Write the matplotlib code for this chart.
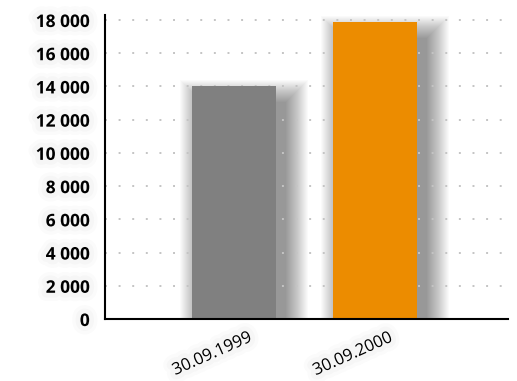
import numpy as np
import matplotlib.pyplot as plt
import matplotlib.patches as mpatches
import matplotlib.transforms as mtransforms
import matplotlib.patheffects as pe

plt.rcParams['font.family'] = ['Open Sans', 'DejaVu Sans']

dates = ['30.09.1999', '30.09.2000']
values = [14000, 17900]
colors = ['#808080', '#ec8c00']
yticks = [0, 2000, 4000, 6000, 8000, 10000, 12000, 14000, 16000, 18000]

fig = plt.figure(figsize=(5.17, 3.81), dpi=100)
ax = fig.add_axes([105 / 517, 62 / 381, 403 / 517, 304 / 381])

x = np.arange(len(values))
width = 0.6
ax.set_xlim(-0.915, 1.943)
ax.set_ylim(0, 18300)

# soft drop shadows, built from stacked translucent rectangles in pixel space
fig.canvas.draw()
for xi, v in zip(x, values):
    (x0, y0) = ax.transData.transform((xi - width / 2, 0))
    (x1, y1) = ax.transData.transform((xi + width / 2, v))
    dx, dy = 10, -16
    for s in np.linspace(0, 22, 23):
        r = mpatches.Rectangle((x0 + dx - s, y0 - s), (x1 - x0) + 2 * s, (y1 - y0) + dy + 2 * s,
                               transform=mtransforms.IdentityTransform(),
                               facecolor='black', edgecolor='none', alpha=0.018, zorder=1)
        ax.add_patch(r)
        r.set_clip_path(ax.patch)

ax.bar(x, values, width, color=colors, zorder=3)

ax.set_yticks(yticks)
ax.set_yticklabels([f'{t:,}'.replace(',', ' ') for t in yticks], fontweight='bold', fontsize=12.5)
ax.yaxis.grid(True, color='#c4c4c4', linestyle=(0, (1, 6)), linewidth=1.4)
for gl in ax.get_ygridlines():
    gl.set_zorder(2)
ax.tick_params(axis='y', length=0, pad=11)

ax.set_xticks(x)
ax.set_xticklabels(dates, rotation=24, ha='right', va='center', rotation_mode='anchor', fontsize=12)
ax.tick_params(axis='x', length=0, pad=13)
offset = mtransforms.ScaledTranslation(17 / 100, 0, fig.dpi_scale_trans)
for lab in ax.get_xticklabels():
    lab.set_transform(lab.get_transform() + offset)

glow = [pe.Stroke(linewidth=12, foreground='black', alpha=0.015),
        pe.Stroke(linewidth=7, foreground='black', alpha=0.02), pe.Normal()]
for lab in ax.get_xticklabels() + ax.get_yticklabels():
    lab.set_path_effects(glow)

for side in ['top', 'right']:
    ax.spines[side].set_visible(False)
ax.spines['left'].set_linewidth(1.5)
ax.spines['bottom'].set_linewidth(1.5)
ax.spines['left'].set_zorder(4)
ax.spines['bottom'].set_zorder(4)

fig.savefig('out.png', dpi=100)
